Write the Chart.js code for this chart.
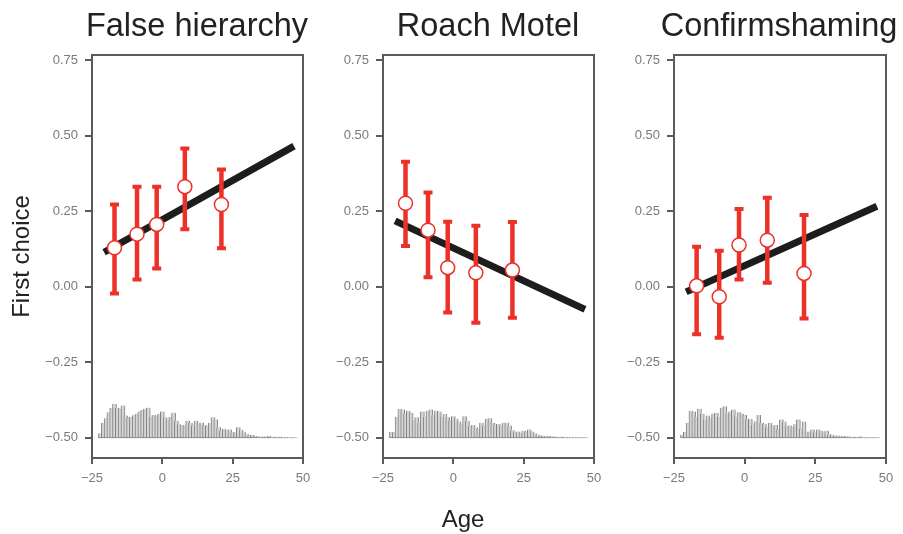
<!DOCTYPE html>
<html>
<head>
<meta charset="utf-8">
<script src="https://cdn.jsdelivr.net/npm/chart.js@4.4.0/dist/chart.umd.min.js"></script>
<style>
    html, body { margin: 0; padding: 0; background: #fff; }
    #wrap { position: relative; width: 903px; height: 534px; overflow: hidden; }
    .panel { position: absolute; top: 0; height: 534px; }
    .title { position: absolute; top: 8.5px; width: 320px; text-align: center;
             font: 32.5px 'Liberation Sans', Arial, sans-serif; line-height: 1; color: #222; white-space: nowrap; }
    #age { position: absolute; top: 507px; left: 403px; width: 120px; text-align: center;
           font: 24px 'Liberation Sans', Arial, sans-serif; line-height: 1; color: #222; }
</style>
</head>
<body>
<div id="wrap">
    <div class="panel" style="left:0;width:313px"><canvas id="p1"></canvas></div>
    <div class="panel" style="left:331px;width:273px"><canvas id="p2"></canvas></div>
    <div class="panel" style="left:622px;width:274px"><canvas id="p3"></canvas></div>
    <div class="title" style="left:37px">False hierarchy</div>
    <div class="title" style="left:328px">Roach Motel</div>
    <div class="title" style="left:619px">Confirmshaming</div>
    <div id="age">Age</div>
</div>
<script>
// Ticks
const xTicks = [-25, 0, 25, 50];
const xTickLabels = ['\u221225', '0', '25', '50'];
const yTicks = [-0.5, -0.25, 0, 0.25, 0.5, 0.75];
const yTickLabels = ['\u22120.50', '\u22120.25', '0.00', '0.25', '0.50', '0.75'];

// Age groups (centered age) for the red points
const groupAges = [-17, -9, -2, 8, 21];

// False hierarchy
const means1 = [0.129, 0.174, 0.206, 0.331, 0.272];
const upper1 = [0.272, 0.331, 0.331, 0.457, 0.388];
const lower1 = [-0.022, 0.024, 0.06, 0.19, 0.127];
// Roach Motel
const means2 = [0.276, 0.187, 0.063, 0.046, 0.055];
const upper2 = [0.413, 0.312, 0.215, 0.202, 0.214];
const lower2 = [0.135, 0.031, -0.085, -0.119, -0.103];
// Confirmshaming
const means3 = [0.003, -0.033, 0.138, 0.154, 0.044];
const upper3 = [0.132, 0.119, 0.257, 0.294, 0.237];
const lower3 = [-0.157, -0.169, 0.024, 0.013, -0.105];

// Regression line end points
const fitX = [-20.7, 46.8];
const fit1 = [0.114, 0.465];
const fit2 = [0.218, -0.075];
const fit3 = [-0.017, 0.266];

// Age histogram (height above the -0.50 baseline)
const histBase = -0.5;
const histAges = [
    -22, -21, -20, -19, -18, -17, -16, -15, -14, -13,
    -12, -11, -10, -9, -8, -7, -6, -5, -4, -3,
    -2, -1, 0, 1, 2, 3, 4, 5, 6, 7,
    8, 9, 10, 11, 12, 13, 14, 15, 16, 17,
    18, 19, 20, 21, 22, 23, 24, 25, 26, 27,
    28, 29, 30, 31, 32, 33, 34, 35, 36, 37,
    38, 39, 40, 41, 42, 43, 44, 45, 46, 47
];
const hist1 = [
    0.015, 0.05, 0.065, 0.085, 0.10, 0.113, 0.10, 0.096, 0.107, 0.074,
    0.068, 0.07, 0.075, 0.08, 0.087, 0.092, 0.096, 0.10, 0.068, 0.076,
    0.074, 0.08, 0.087, 0.068, 0.063, 0.07, 0.083, 0.057, 0.045, 0.043,
    0.041, 0.057, 0.05, 0.041, 0.057, 0.05, 0.05, 0.043, 0.039, 0.05,
    0.068, 0.061, 0.035, 0.024, 0.03, 0.026, 0.028, 0.019, 0.019, 0.035,
    0.026, 0.019, 0.012, 0.008, 0.01, 0.006, 0.005, 0.004, 0.005, 0.004,
    0.006, 0.003, 0.004, 0.003, 0.004, 0.002, 0.003, 0.002, 0.002, 0.002
];
const hist2 = [
    0.02, 0.019, 0.07, 0.096, 0.094, 0.08, 0.09, 0.083, 0.06, 0.068,
    0.052, 0.087, 0.07, 0.09, 0.094, 0.075, 0.09, 0.087, 0.07, 0.079,
    0.068, 0.06, 0.072, 0.063, 0.054, 0.045, 0.072, 0.057, 0.04, 0.043,
    0.035, 0.03, 0.05, 0.04, 0.063, 0.065, 0.05, 0.043, 0.046, 0.04,
    0.05, 0.05, 0.041, 0.025, 0.019, 0.021, 0.015, 0.024, 0.02, 0.028,
    0.021, 0.015, 0.01, 0.008, 0.006, 0.005, 0.006, 0.004, 0.005, 0.003,
    0.003, 0.004, 0.002, 0.003, 0.002, 0.002, 0.002, 0.002, 0.002, 0.002
];
const hist3 = [
    0.01, 0.02, 0.05, 0.09, 0.087, 0.07, 0.096, 0.08, 0.06, 0.074,
    0.065, 0.08, 0.083, 0.07, 0.1, 0.105, 0.08, 0.087, 0.094, 0.07,
    0.085, 0.08, 0.076, 0.06, 0.063, 0.043, 0.055, 0.076, 0.05, 0.046,
    0.035, 0.05, 0.04, 0.043, 0.03, 0.061, 0.054, 0.04, 0.041, 0.035,
    0.045, 0.061, 0.03, 0.054, 0.021, 0.02, 0.028, 0.018, 0.028, 0.024,
    0.018, 0.024, 0.012, 0.01, 0.007, 0.008, 0.005, 0.006, 0.004, 0.005,
    0.003, 0.004, 0.003, 0.005, 0.002, 0.002, 0.002, 0.002, 0.002, 0.002
];

const red = '#ec3129';
const axisGrey = '#5a5a5a';
Chart.defaults.font.family = "'Liberation Sans', Arial, Helvetica, sans-serif";

// Kader om het plotgebied
const boxPlugin = {
    id: 'box',
    afterDraw(chart) {
        const a = chart.chartArea;
        const ctx = chart.ctx;
        ctx.save();
        ctx.strokeStyle = axisGrey;
        ctx.lineWidth = 2;
        ctx.strokeRect(a.left, a.top, a.right - a.left, a.bottom - a.top);
        ctx.restore();
    }
};

// Foutbalken, getekend net voor de punten
const errorBarPlugin = {
    id: 'errorBars',
    beforeDatasetDraw(chart, args, opts) {
        if (args.index !== 0) return;
        const ctx = chart.ctx;
        const xs = chart.scales.x;
        const ys = chart.scales.y;
        ctx.save();
        ctx.strokeStyle = red;
        ctx.lineCap = 'butt';
        groupAges.forEach((age, i) => {
            const px = xs.getPixelForValue(age);
            const pTop = ys.getPixelForValue(opts.upper[i]);
            const pBot = ys.getPixelForValue(opts.lower[i]);
            ctx.lineWidth = 4.5;
            ctx.beginPath();
            ctx.moveTo(px, pTop);
            ctx.lineTo(px, pBot);
            ctx.stroke();
            ctx.lineWidth = 4;
            ctx.beginPath();
            ctx.moveTo(px - 4.5, pTop);
            ctx.lineTo(px + 4.5, pTop);
            ctx.moveTo(px - 4.5, pBot);
            ctx.lineTo(px + 4.5, pBot);
            ctx.stroke();
        });
        ctx.restore();
    }
};

function makePanel(id, axisWidth, yTitle, means, upper, lower, fit, hist) {
    new Chart(document.getElementById(id), {
        type: 'scatter',
        data: {
            datasets: [
                {
                    // Groepsgemiddelden
                    data: groupAges.map((a, i) => ({ x: a, y: means[i] })),
                    pointRadius: 7,
                    pointBorderWidth: 1.5,
                    pointBorderColor: red,
                    pointBackgroundColor: '#fff',
                    order: 0
                },
                {
                    type: 'line',
                    data: fitX.map((a, i) => ({ x: a, y: fit[i] })),
                    borderColor: '#1d1d1d',
                    borderWidth: 7,
                    borderCapStyle: 'butt',
                    pointRadius: 0,
                    fill: false,
                    order: 1
                },
                {
                    type: 'bar',
                    data: histAges.map((a, i) => ({ x: a, y: [histBase, histBase + hist[i]] })),
                    backgroundColor: '#d6d6d6',
                    borderColor: '#808080',
                    borderWidth: 1,
                    barThickness: 4,
                    order: 2
                }
            ]
        },
        options: {
            responsive: true,
            maintainAspectRatio: false,
            animation: false,
            layout: { padding: { left: 0, right: 10, top: 55, bottom: 0 } },
            plugins: {
                legend: { display: false },
                tooltip: { enabled: false },
                title: { display: false },
                errorBars: { upper: upper, lower: lower }
            },
            scales: {
                x: {
                    type: 'linear',
                    min: -25,
                    max: 50,
                    offset: false,
                    afterBuildTicks: (s) => { s.ticks = xTicks.map(v => ({ value: v })); },
                    afterFit: (s) => { s.height = 76; s.paddingLeft = 0; s.paddingRight = 0; },
                    ticks: {
                        color: '#7a7a7a',
                        font: { size: 13 },
                        padding: 7,
                        maxRotation: 0,
                        callback: (v, i) => xTickLabels[i]
                    },
                    grid: { offset: false, drawOnChartArea: false, color: axisGrey, lineWidth: 2, tickLength: 6 },
                    border: { display: false }
                },
                y: {
                    type: 'linear',
                    min: -0.5665,
                    max: 0.7665,
                    afterBuildTicks: (s) => { s.ticks = yTicks.map(v => ({ value: v })); },
                    afterFit: (s) => { s.width = axisWidth; s.paddingTop = 0; s.paddingBottom = 0; },
                    ticks: {
                        color: '#7a7a7a',
                        font: { size: 13 },
                        padding: 7,
                        callback: (v, i) => yTickLabels[i]
                    },
                    grid: { drawOnChartArea: false, color: axisGrey, lineWidth: 2, tickLength: 7 },
                    border: { display: false },
                    title: {
                        display: yTitle,
                        text: 'First choice',
                        color: '#222',
                        font: { size: 24 },
                        padding: { top: 8, bottom: 0 }
                    }
                }
            }
        },
        plugins: [boxPlugin, errorBarPlugin]
    });
}

makePanel('p1', 92, true, means1, upper1, lower1, fit1, hist1);
makePanel('p2', 52, false, means2, upper2, lower2, fit2, hist2);
makePanel('p3', 52, false, means3, upper3, lower3, fit3, hist3);
</script>
</body>
</html>
